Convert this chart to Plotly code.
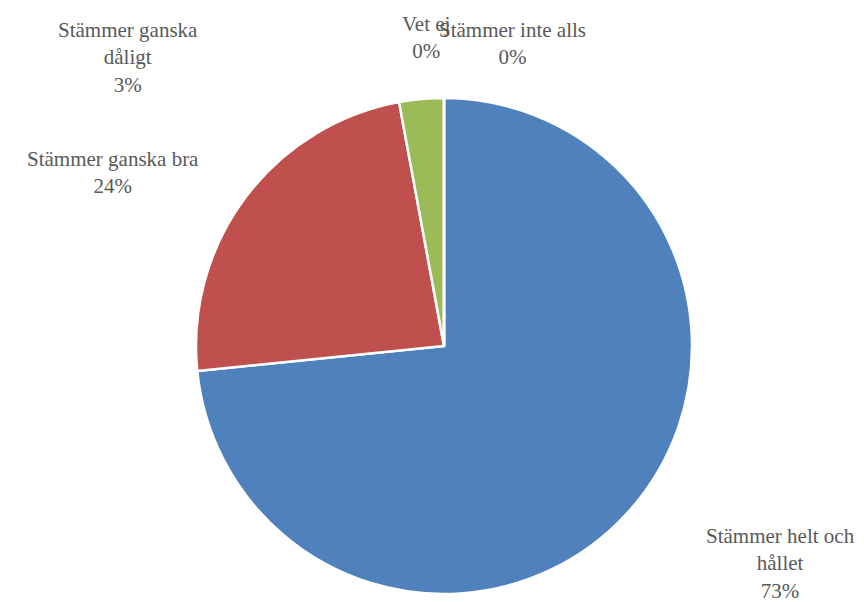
import plotly.graph_objects as go

labels = ["Stämmer helt och hållet", "Stämmer ganska bra", "Stämmer ganska dåligt",
          "Stämmer inte alls", "Vet ej"]
display_labels = ["Stämmer helt och<br>hållet", "Stämmer ganska bra", "Stämmer ganska<br>dåligt",
                  "Stämmer inte alls", "Vet ej"]
values = [73.4, 23.7, 2.9, 0, 0]
colors = ["#4F81BD", "#C0504D", "#9BBB59", "#8064A2", "#4BACC6"]

# label block centres (pixels in 864x602 canvas)
label_pos = [(772, 555), (105, 164), (120, 49), (505, 36), (418, 30)]

W, H = 864, 602
cx, cy, r = 436, 338, 248

fig = go.Figure(go.Pie(
    labels=labels, values=values, sort=False, direction="clockwise", rotation=0,
    marker=dict(colors=colors, line=dict(color="white", width=2.5)),
    textinfo="none", hoverinfo="label+percent",
    domain=dict(x=[(cx - r) / W, (cx + r) / W], y=[(H - cy - r) / H, (H - cy + r) / H]),
    showlegend=False,
))

total = sum(values)
for lab, v, (px, py) in zip(display_labels, values, label_pos):
    fig.add_annotation(
        x=px / W, y=1 - py / H, xref="paper", yref="paper",
        text=f"{lab}<br>{round(100 * v / total)}%", showarrow=False,
        xanchor="center", yanchor="middle", align="center",
        font=dict(family="Liberation Serif", size=21, color="#595959"),
    )

fig.update_layout(width=W, height=H, margin=dict(l=0, r=0, t=0, b=0),
                  paper_bgcolor="white", plot_bgcolor="white",
                  font=dict(family="Liberation Serif"))
fig.write_html("out.html")
